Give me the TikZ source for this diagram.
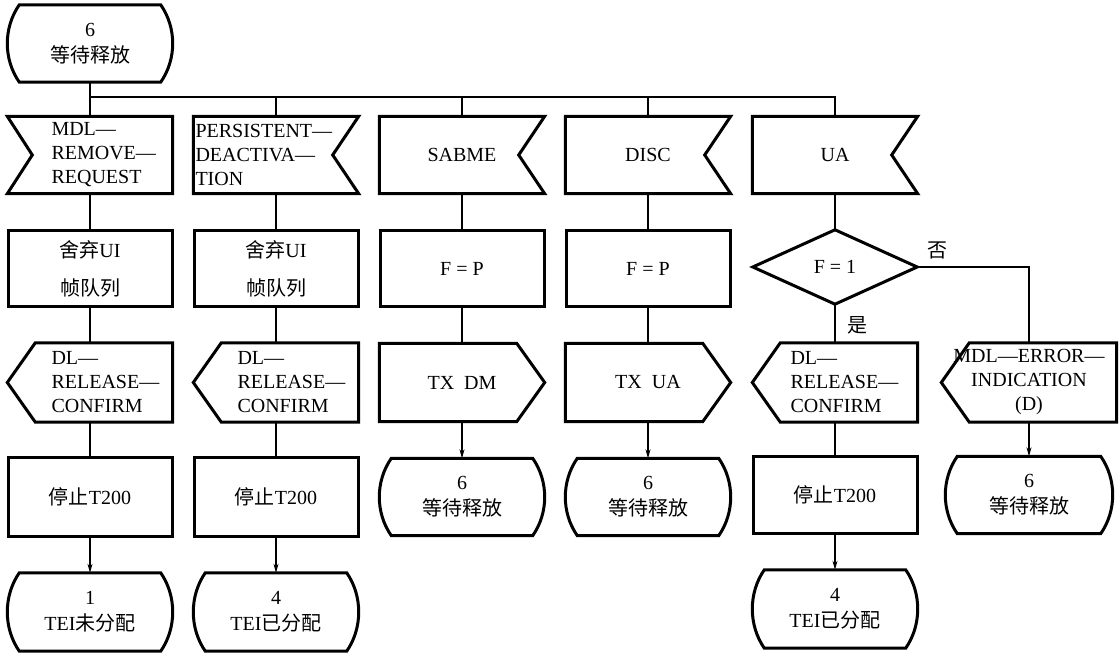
\documentclass[tikz,border=0pt]{standalone}
\usepackage{fontspec}
\setmainfont{Liberation Serif}
\newfontfamily\cjk{Noto Sans CJK SC}
\usetikzlibrary{arrows.meta}
\newcommand\fs{\fontsize{20pt}{24pt}\selectfont}
\newcommand\ind{\hspace*{44pt}}
\newcommand\indb{\hspace*{2pt}}
\newcommand\indc{\hspace*{38pt}}
% outlines drawn around named nodes
\newcommand\stateoutline[1]{\draw[outl] ([xshift=12pt]#1.north west) -- ([xshift=-12pt]#1.north east) .. controls ([xshift=4pt,yshift=-23pt]#1.north east) and ([xshift=4pt,yshift=23pt]#1.south east) .. ([xshift=-12pt]#1.south east) -- ([xshift=12pt]#1.south west) .. controls ([xshift=-4pt,yshift=23pt]#1.south west) and ([xshift=-4pt,yshift=-23pt]#1.north west) .. cycle;}
\newcommand\notchR[1]{\draw[outl] (#1.north west) -- (#1.north east) -- ([xshift=-26pt]#1.east) -- (#1.south east) -- (#1.south west) -- cycle;}
\newcommand\notchL[1]{\draw[outl] (#1.north west) -- (#1.north east) -- (#1.south east) -- (#1.south west) -- ([xshift=25pt]#1.west) -- cycle;}
\newcommand\ptL[1]{\draw[outl] ([xshift=28pt]#1.north west) -- (#1.north east) -- (#1.south east) -- ([xshift=28pt]#1.south west) -- (#1.west) -- cycle;}
\newcommand\ptR[1]{\draw[outl] (#1.north west) -- ([xshift=-28pt]#1.north east) -- (#1.east) -- ([xshift=-28pt]#1.south east) -- (#1.south west) -- cycle;}
\newcommand\diaoutline[1]{\draw[outl] (#1.west) -- (#1.north) -- (#1.east) -- (#1.south) -- cycle;}
\begin{document}
\begin{tikzpicture}[x=1pt,y=1pt,
  base/.style={inner sep=0pt, font=\fs, align=center},
  proc/.style={base, draw, line width=3pt, minimum width=164pt, minimum height=76pt},
  sig/.style={base, minimum width=165pt, minimum height=77pt},
  sigl/.style={sig, text width=165pt, align=left},
  outl/.style={line width=3pt, line join=miter},
  conn/.style={line width=1.1pt},
  arr/.style={conn, -{Stealth[length=9pt,width=5pt]}},
  lab/.style={font=\fs\cjk, inner sep=0pt}
]
\useasboundingbox (0,0) rectangle (1119,655);

% start state
\node[sig] (s0) at (90,611.5) {6\\[2pt]{\cjk 等待释放}};
\stateoutline{s0}

% row 1: input signals
\node[sigl] (m1) at (90,500) {\ind MDL—\\\ind REMOVE—\\\ind REQUEST};
\notchL{m1}
\node[sigl] (p1) at (276,500) {\indb PERSISTENT—\\\indb DEACTIVA—\\\indb TION};
\notchR{p1}
\node[sig] (sab) at (462,500) {SABME};
\notchR{sab}
\node[sig] (disc) at (648,500) {DISC};
\notchR{disc}
\node[sig] (ua) at (835,500) {UA};
\notchR{ua}

% row 2
\node[proc] (q1) at (90,386) {{\cjk 舍弃}UI\\[14pt]{\cjk 帧队列}};
\node[proc] (q2) at (276,386) {{\cjk 舍弃}UI\\[14pt]{\cjk 帧队列}};
\node[proc] (f3) at (462,386) {F = P};
\node[proc] (f4) at (648,386) {F = P};
\node[base, minimum width=164pt, minimum height=74pt] (d5) at (835,388) {F = 1};
\diaoutline{d5}

% row 3: output signals
\node[sigl, minimum height=79pt] (c1) at (90,272.5) {\ind DL—\\\ind RELEASE—\\\ind CONFIRM};
\ptL{c1}
\node[sigl, minimum height=79pt] (c2) at (276,272.5) {\ind DL—\\\ind RELEASE—\\\ind CONFIRM};
\ptL{c2}
\node[sig, minimum height=78pt] (tx3) at (462,272.5) {TX\ \ DM};
\ptR{tx3}
\node[sig, minimum height=78pt] (tx4) at (648,272.5) {TX\ \ UA};
\ptR{tx4}
\node[sigl, minimum height=79pt] (c5) at (835,272.5) {\indc DL—\\\indc RELEASE—\\\indc CONFIRM};
\ptL{c5}
\node[sig, minimum width=175pt, minimum height=79pt] (err) at (1029,272.5) {MDL—ERROR—\\INDICATION\\(D)};
\ptL{err}

% row 4
\node[proc, minimum height=79pt] (t1) at (90,158) {{\cjk 停止}T200};
\node[proc, minimum height=79pt] (t2) at (276,158) {{\cjk 停止}T200};
\node[sig] (w3) at (462,158) {6\\[2pt]{\cjk 等待释放}};
\stateoutline{w3}
\node[sig] (w4) at (648,158) {6\\[2pt]{\cjk 等待释放}};
\stateoutline{w4}
\node[proc, minimum height=77pt] (t5) at (835,160) {{\cjk 停止}T200};
\node[sig, minimum width=167pt] (w6) at (1029,160) {6\\[2pt]{\cjk 等待释放}};
\stateoutline{w6}

% row 5
\node[sig, minimum height=78pt] (e1) at (90,43) {1\\[2pt]TEI{\cjk 未分配}};
\stateoutline{e1}
\node[sig, minimum height=78pt] (e2) at (276,43) {4\\[2pt]TEI{\cjk 已分配}};
\stateoutline{e2}
\node[sig, minimum height=78pt] (e5) at (835,46) {4\\[2pt]TEI{\cjk 已分配}};
\stateoutline{e5}

% labels
\node[lab] (no) at (937,405) {否};
\node[lab] (yes) at (857,330) {是};

% connectors
\coordinate (bus) at (90,558);
\draw[conn] (s0.south) -- (bus) -- (bus -| ua.north) -- (ua.north);
\foreach \n in {m1,p1,sab,disc} \draw[conn] (bus -| \n.north) -- (\n.north);

\draw[conn] (m1.south) -- (q1.north);
\draw[conn] (q1.south) -- (c1.north);
\draw[conn] (c1.south) -- (t1.north);
\draw[arr] (t1.south) -- (e1.north);

\draw[conn] (p1.south) -- (q2.north);
\draw[conn] (q2.south) -- (c2.north);
\draw[conn] (c2.south) -- (t2.north);
\draw[arr] (t2.south) -- (e2.north);

\draw[conn] (sab.south) -- (f3.north);
\draw[conn] (f3.south) -- (tx3.north);
\draw[arr] (tx3.south) -- (w3.north);

\draw[conn] (disc.south) -- (f4.north);
\draw[conn] (f4.south) -- (tx4.north);
\draw[arr] (tx4.south) -- (w4.north);

\draw[conn] (ua.south) -- (d5.north);
\draw[conn] (d5.south) -- (c5.north);
\draw[conn] (c5.south) -- (t5.north);
\draw[arr] (t5.south) -- (e5.north);

\draw[conn] (d5.east) -| (err.north);
\draw[arr] (err.south) -- (w6.north);
\end{tikzpicture}
\end{document}
